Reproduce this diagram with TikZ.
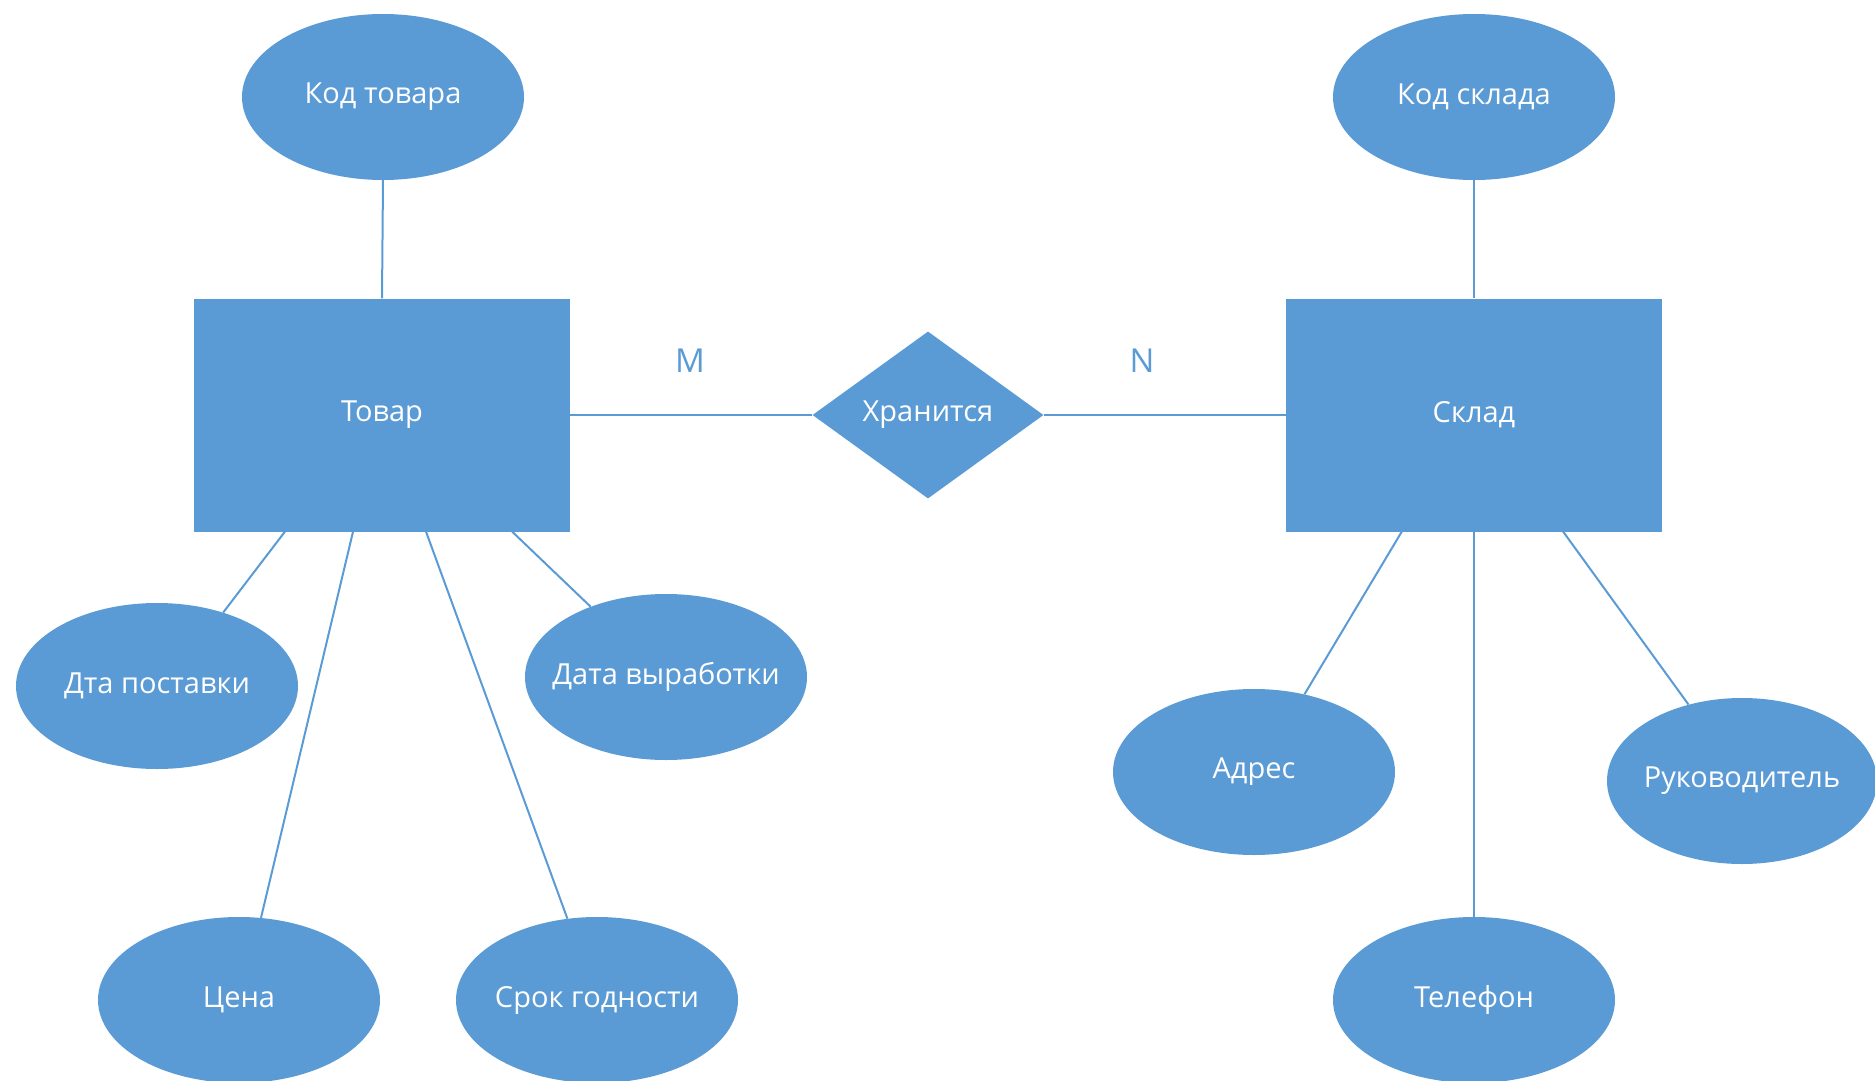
\documentclass[tikz,border=0pt]{standalone}
\usepackage{fontspec}
\setmainfont{Open Sans}
\usetikzlibrary{shapes.geometric,calc}
\definecolor{erblue}{HTML}{5B9BD5}
\tikzset{
  lbl/.style={text=white, font=\fontsize{29}{33}\selectfont},
  attr/.style={ellipse, fill=erblue, draw=none, minimum width=282pt, minimum height=166pt, inner sep=-40pt, lbl},
  entity/.style={rectangle, fill=erblue, draw=none, minimum width=376pt, minimum height=233pt, inner sep=0pt, lbl},
  rel/.style={diamond, fill=erblue, draw=none, aspect=1.38, minimum width=231pt, minimum height=167pt, inner sep=-20pt, lbl},
  conn/.style={draw=erblue, line width=2pt},
  card/.style={text=erblue, font=\fontsize{33}{37}\selectfont}
}
\begin{document}
\begin{tikzpicture}[x=1pt,y=-1pt]
\useasboundingbox (0,0) rectangle (1875,1081);
% entities
\node[entity] (tovar) at (382,415) {Товар};
\node[entity] (sklad) at (1474,415) {Склад};
\node[rel] (hran) at (928,415) {Хранится};
% attributes
\node[attr] (kodt) at (383,97) {Код товара};
\node[attr] (kods) at (1474,97) {Код склада};
\node[attr] (dp) at (157,686) {Дта поставки};
\node[attr] (dv) at (666,677) {Дата выработки};
\node[attr] (cena) at (239,1000) {Цена};
\node[attr] (srok) at (597,1000) {Срок годности};
\node[attr] (adr) at (1254,772) {Адрес};
\node[attr, minimum width=270pt] (ruk) at (1742,781) {Руководитель};
\node[attr] (tel) at (1474,1000) {Телефон};
% cardinalities
\node[card] (m) at (690,361) {M};
\node[card] (n) at (1142,361) {N};
% connectors
\draw[conn] (kodt.south) -- (tovar.north);
\draw[conn] (kods.south) -- (sklad.north);
\draw[conn] (tovar.east) -- (hran.west);
\draw[conn] (hran.east) -- (sklad.west);
\draw[conn] ($(tovar.south west)!0.242!(tovar.south east)$) -- (dp.48);
\draw[conn] ($(tovar.south west)!0.423!(tovar.south east)$) -- (cena.75);
\draw[conn] ($(tovar.south west)!0.617!(tovar.south east)$) -- (srok.110);
\draw[conn] ($(tovar.south west)!0.846!(tovar.south east)$) -- (dv.137);
\draw[conn] ($(sklad.south west)!0.308!(sklad.south east)$) -- (adr.57);
\draw[conn] (sklad.south) -- (tel.north);
\draw[conn] ($(sklad.south west)!0.737!(sklad.south east)$) -- (ruk.125);
\end{tikzpicture}
\end{document}
